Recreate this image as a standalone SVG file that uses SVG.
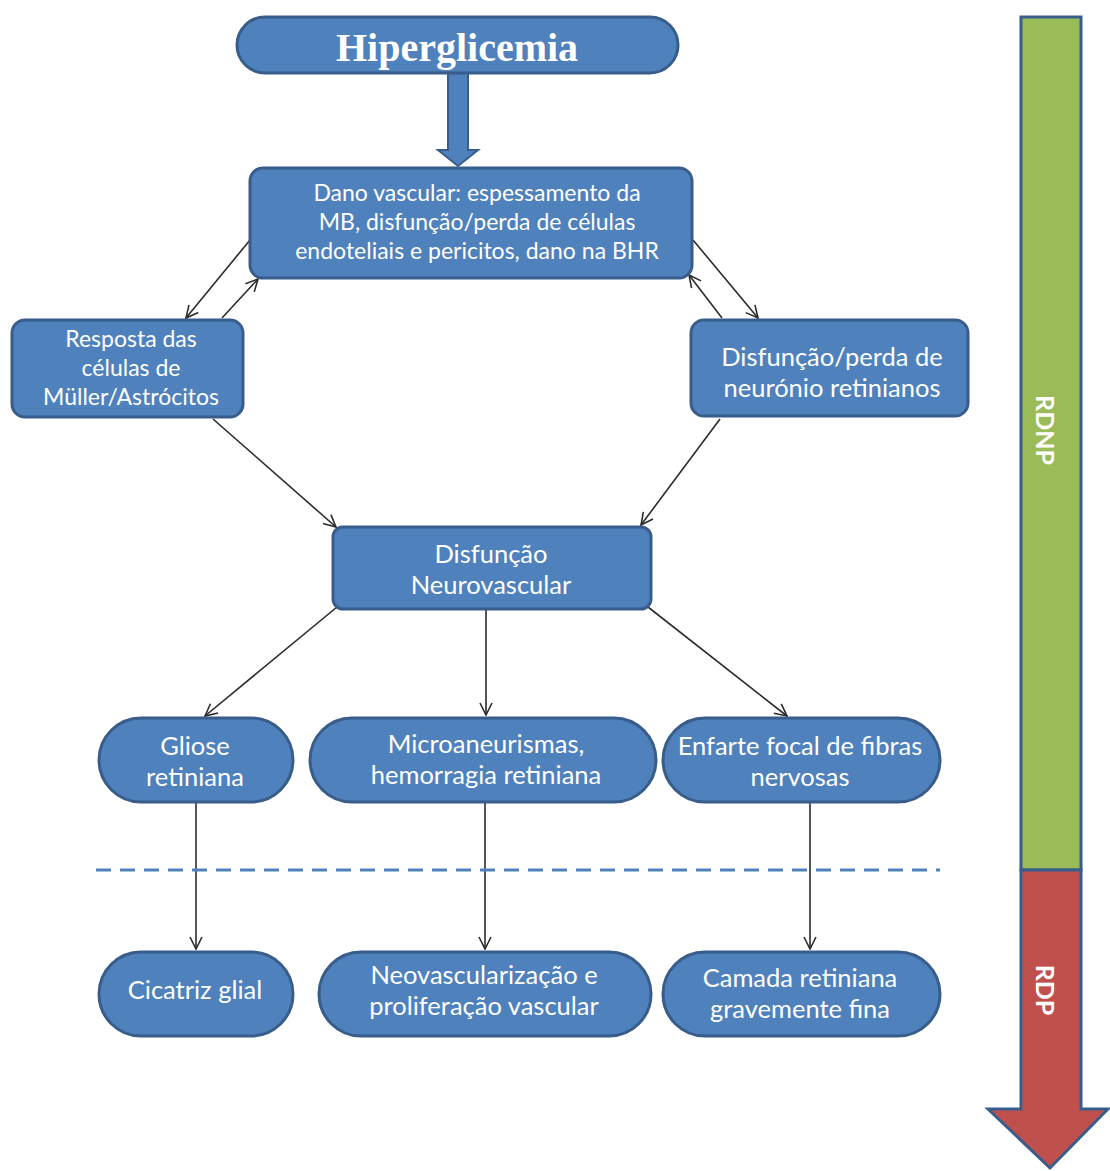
<svg xmlns="http://www.w3.org/2000/svg" width="1110" height="1171" viewBox="0 0 1110 1171">
<style>
.box{fill:#4F81BD;stroke:#385D8A;stroke-width:3}
.t{font-family:Lato,"Open Sans",sans-serif;font-size:23px;fill:#fff;text-anchor:middle}
.b{font-size:25.5px}
.c{stroke:#2b2b2b;stroke-width:1.6;fill:none;marker-end:url(#ah)}
</style>
<defs>
<marker id="ah" viewBox="0 0 14 14" refX="13" refY="7" markerWidth="14" markerHeight="14" markerUnits="userSpaceOnUse" orient="auto">
<path d="M1,1 L13,7 L1,13" fill="none" stroke="#2b2b2b" stroke-width="1.6"/>
</marker>
</defs>
<rect width="1110" height="1171" fill="#fff"/>

<g id="side-arrow">
<rect x="1021" y="17" width="60" height="853" fill="#9BBB59" stroke="#385D8A" stroke-width="3"/>
<path d="M1021,870 H1081 V1109 H1108 L1050,1168 L988,1109 H1021 Z" fill="#C0504D" stroke="#385D8A" stroke-width="3" stroke-linejoin="miter"/>
<text x="1046" y="430" transform="rotate(90 1046 430)" text-anchor="middle" dominant-baseline="central" font-family="Lato,'Open Sans',sans-serif" font-weight="bold" font-size="25" fill="#fff">RDNP</text>
<text x="1046" y="990" transform="rotate(90 1046 990)" text-anchor="middle" dominant-baseline="central" font-family="Lato,'Open Sans',sans-serif" font-weight="bold" font-size="25" fill="#fff">RDP</text>
</g>

<g id="connectors">
<path d="M448,73 V150 H438 L458,166 L478,150 H468 V73 Z" fill="#4F81BD" stroke="#385D8A" stroke-width="2"/>
<line class="c" x1="250" y1="240" x2="186" y2="318"/>
<line class="c" x1="222" y1="318" x2="258" y2="279"/>
<line class="c" x1="693" y1="240" x2="758" y2="318"/>
<line class="c" x1="722" y1="318" x2="689" y2="275"/>
<line class="c" x1="213" y1="419" x2="336" y2="527"/>
<line class="c" x1="720" y1="419" x2="641" y2="525"/>
<line class="c" x1="337" y1="607" x2="205" y2="716"/>
<line class="c" x1="486" y1="610" x2="486" y2="715"/>
<line class="c" x1="648" y1="607" x2="787" y2="716"/>
<line class="c" x1="196" y1="803" x2="196" y2="949"/>
<line class="c" x1="485" y1="803" x2="485" y2="949"/>
<line class="c" x1="810" y1="803" x2="810" y2="949"/>
<line x1="96" y1="870" x2="940" y2="870" stroke="#4F81BD" stroke-width="3" stroke-dasharray="15 9"/>
</g>

<g id="hiperglicemia">
<rect class="box" x="237" y="17" width="441" height="56" rx="28"/>
<text x="457" y="61" text-anchor="middle" font-family="'Liberation Serif',serif" font-weight="bold" font-size="40" fill="#fff">Hiperglicemia</text>
</g>

<g id="dano">
<rect class="box" x="250" y="168" width="442" height="110" rx="13"/>
<text class="t" x="477" y="201">Dano vascular: espessamento da</text>
<text class="t" x="477" y="230">MB, disfunção/perda de células</text>
<text class="t" x="477" y="259">endoteliais e pericitos, dano na BHR</text>
</g>

<g id="resposta">
<rect class="box" x="12" y="320" width="231" height="97" rx="13"/>
<text class="t" x="131" y="347">Resposta das</text>
<text class="t" x="131" y="376">células de</text>
<text class="t" x="131" y="405">Müller/Astrócitos</text>
</g>

<g id="disfuncao-perda">
<rect class="box" x="691" y="320" width="277" height="96" rx="13"/>
<text class="t b" x="832" y="366">Disfunção/perda de</text>
<text class="t b" x="832" y="397">neurónio retinianos</text>
</g>

<g id="neurovascular">
<rect class="box" x="333" y="527" width="318" height="82" rx="10"/>
<text class="t b" x="491" y="563">Disfunção</text>
<text class="t b" x="491" y="594">Neurovascular</text>
</g>

<g id="gliose">
<rect class="box" x="99" y="718" width="194" height="84" rx="42"/>
<text class="t b" x="195" y="755">Gliose</text>
<text class="t b" x="195" y="786">retiniana</text>
</g>

<g id="microaneurismas">
<rect class="box" x="310" y="718" width="346" height="84" rx="42"/>
<text class="t b" x="486" y="753">Microaneurismas,</text>
<text class="t b" x="486" y="784">hemorragia retiniana</text>
</g>

<g id="enfarte">
<rect class="box" x="663" y="718" width="277" height="84" rx="42"/>
<text class="t b" x="800" y="755">Enfarte focal de fibras</text>
<text class="t b" x="800" y="786">nervosas</text>
</g>

<g id="cicatriz">
<rect class="box" x="99" y="952" width="194" height="84" rx="42"/>
<text class="t b" x="195" y="999">Cicatriz glial</text>
</g>

<g id="neovascularizacao">
<rect class="box" x="319" y="952" width="332" height="84" rx="42"/>
<text class="t b" x="484" y="984">Neovascularização e</text>
<text class="t b" x="484" y="1015">proliferação vascular</text>
</g>

<g id="camada">
<rect class="box" x="663" y="952" width="277" height="84" rx="42"/>
<text class="t b" x="800" y="987">Camada retiniana</text>
<text class="t b" x="800" y="1018">gravemente fina</text>
</g>
</svg>
